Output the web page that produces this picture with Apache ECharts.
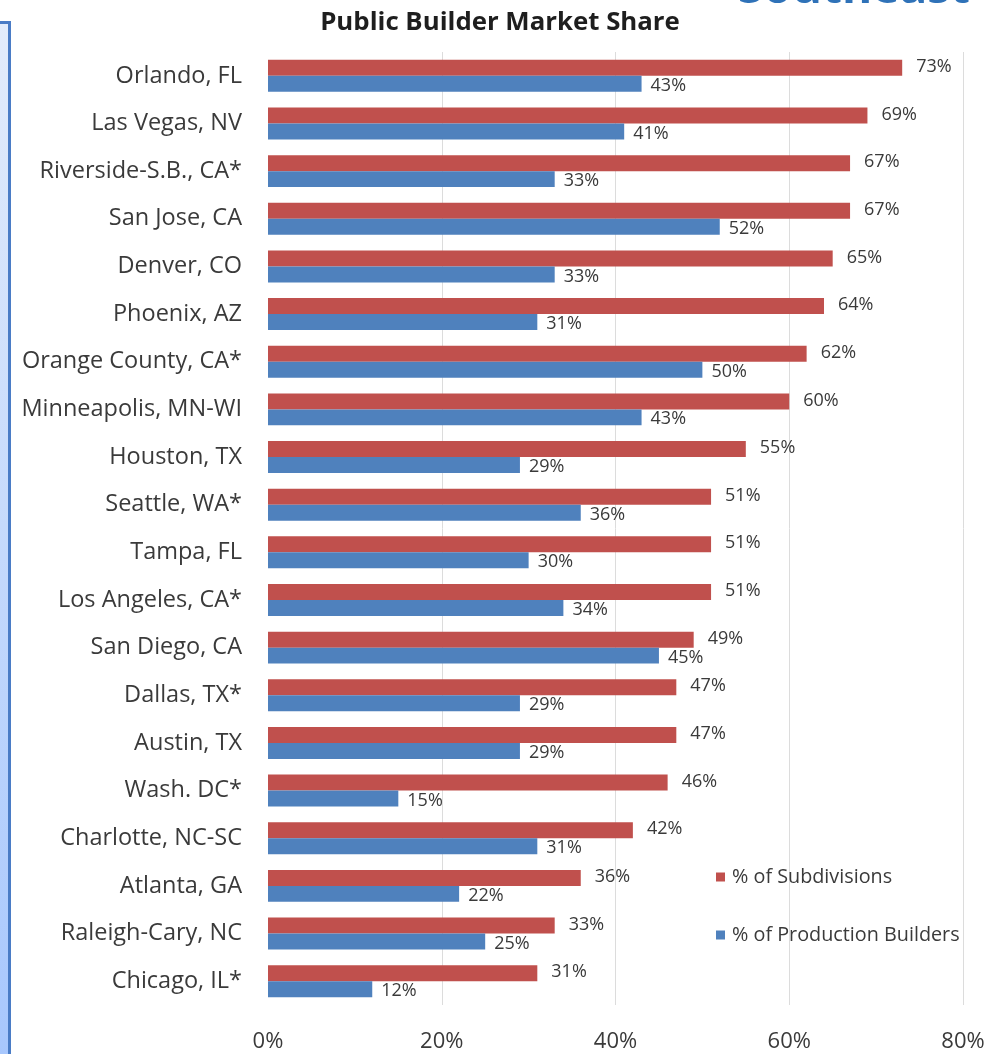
<!DOCTYPE html>
<html>
<head>
<meta charset="utf-8">
<script src="https://cdn.jsdelivr.net/npm/echarts@6/dist/echarts.min.js"></script>
<style>
html,body{margin:0;padding:0;background:#fff;}
#chart{width:1000px;height:1054px;}
</style>
</head>
<body>
<div id="chart"></div>
<script>
const categories = ["Orlando, FL","Las Vegas, NV","Riverside-S.B., CA*","San Jose, CA","Denver, CO","Phoenix, AZ","Orange County, CA*","Minneapolis, MN-WI","Houston, TX","Seattle, WA*","Tampa, FL","Los Angeles, CA*","San Diego, CA","Dallas, TX*","Austin, TX","Wash. DC*","Charlotte, NC-SC","Atlanta, GA","Raleigh-Cary, NC","Chicago, IL*"];
const subdivisions = [73,69,67,67,65,64,62,60,55,51,51,51,49,47,47,46,42,36,33,31];
const productionBuilders = [43,41,33,52,33,31,50,43,29,36,30,34,45,29,29,15,31,22,25,12];
const seriesNames = ["% of Subdivisions","% of Production Builders"];
const titleText = "Public Builder Market Share";
const cornerText = "Southeast";

const FONT = "'Open Sans', sans-serif";
const TXT = '#3a3a3a';
const chart = echarts.init(document.getElementById('chart'), null, {renderer:'canvas'});
chart.setOption({
  backgroundColor:'#ffffff',
  animation:false,
  title:{
    text:titleText, left:'center', top:5,
    textStyle:{fontFamily:FONT, fontSize:25.8, fontWeight:'bold', color:'#1e1e1e'}
  },
  graphic:[
    {type:'rect', left:0, top:22, shape:{width:9, height:1040},
     style:{fill:new echarts.graphic.LinearGradient(0,0,0,1,[{offset:0,color:'#e3ecfb'},{offset:1,color:'#a7c7fd'}])}},
    {type:'rect', left:8, top:21, shape:{width:3, height:1040}, style:{fill:'#4a7cc6'}},
    {type:'rect', left:0, top:21, shape:{width:11, height:3}, style:{fill:'#4a7cc6'}},
    {type:'text', x:970, y:13, style:{text:cornerText, font:"bold 46px "+FONT, fill:'#2f72b8', textAlign:'right', textVerticalAlign:'bottom'}}
  ],
  legend:{
    orient:'vertical', left:711, top:862,
    itemWidth:9, itemHeight:9, itemGap:38,
    icon:'rect',
    textStyle:{fontFamily:FONT, fontSize:19.8, color:TXT, padding:[0,0,0,2]},
    data:seriesNames
  },
  grid:{left:268, right:37, top:52, bottom:49, containLabel:false},
  xAxis:{
    type:'value', min:0, max:80, interval:20,
    axisLine:{show:false}, axisTick:{show:false},
    splitLine:{show:true, lineStyle:{color:['rgba(0,0,0,0)','#dcdcdc','#dcdcdc','#dcdcdc','#dcdcdc'], width:1}},
    axisLabel:{formatter:'{value}%', fontFamily:FONT, fontSize:22, color:TXT, margin:26}
  },
  yAxis:{
    type:'category', data:categories, inverse:true,
    axisLine:{show:false}, axisTick:{show:false},
    axisLabel:{fontFamily:FONT, fontSize:23.5, color:TXT, margin:26}
  },
  series:[
    {name:seriesNames[0], type:'bar', data:subdivisions, barGap:'0%', barCategoryGap:'33%',
     itemStyle:{color:'#c0504d'},
     label:{show:true, position:'right', distance:14, formatter:'{c}%', fontFamily:FONT, fontSize:18, color:TXT, offset:[0,-1]}},
    {name:seriesNames[1], type:'bar', data:productionBuilders,
     itemStyle:{color:'#4f81bd'},
     label:{show:true, position:'right', distance:9, formatter:'{c}%', fontFamily:FONT, fontSize:18, color:TXT, offset:[0,2]}}
  ]
});
</script>
</body>
</html>
